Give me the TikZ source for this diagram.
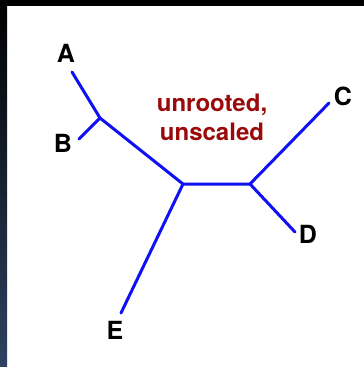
\documentclass[tikz,border=0pt]{standalone}
\usepackage{fontspec}
\setmainfont{TeX Gyre Heros}
\begin{document}
\begin{tikzpicture}[x=1pt,y=-1pt,
  branch/.style={draw=treeblue,line width=3pt,line cap=round,line join=round},
  leaf/.style={font=\fontsize{25}{25}\selectfont\bfseries,text=black,inner sep=0pt},
  note/.style={font=\fontsize{24}{29}\selectfont\bfseries,text=notered,align=center,inner sep=0pt}]
\definecolor{treeblue}{HTML}{1010F5}
\definecolor{notered}{HTML}{9A0A0A}
\definecolor{edgetop}{HTML}{000000}
\definecolor{edgebot}{HTML}{2E4260}
\useasboundingbox (0,0) rectangle (364,367);
\fill[white] (0,0) rectangle (364,367);
\fill[black] (0,0) rectangle (364,6);
\shade[top color=edgetop,bottom color=edgebot] (0,0) rectangle (7,367);
% tree points
\coordinate (a) at (72,72);
\coordinate (ab) at (100,118);
\coordinate (b) at (79,139);
\coordinate (m) at (183,184);
\coordinate (n) at (250,184);
\coordinate (c) at (329,103);
\coordinate (d) at (295,232);
\coordinate (e) at (121,313);
\draw[branch] (a) -- (ab) -- (m) -- (n) -- (c);
\draw[branch] (ab) -- (b);
\draw[branch] (n) -- (d);
\draw[branch] (m) -- (e);
% labels
\node[leaf] (la) at (66,53) {A};
\node[leaf] (lb) at (63,143) {B};
\node[leaf] (lc) at (343,96) {C};
\node[leaf] (ld) at (308,234) {D};
\node[leaf] (le) at (115,330) {E};
\node[note] (txt) at (212,117) {unrooted,\\unscaled};
\end{tikzpicture}
\end{document}
